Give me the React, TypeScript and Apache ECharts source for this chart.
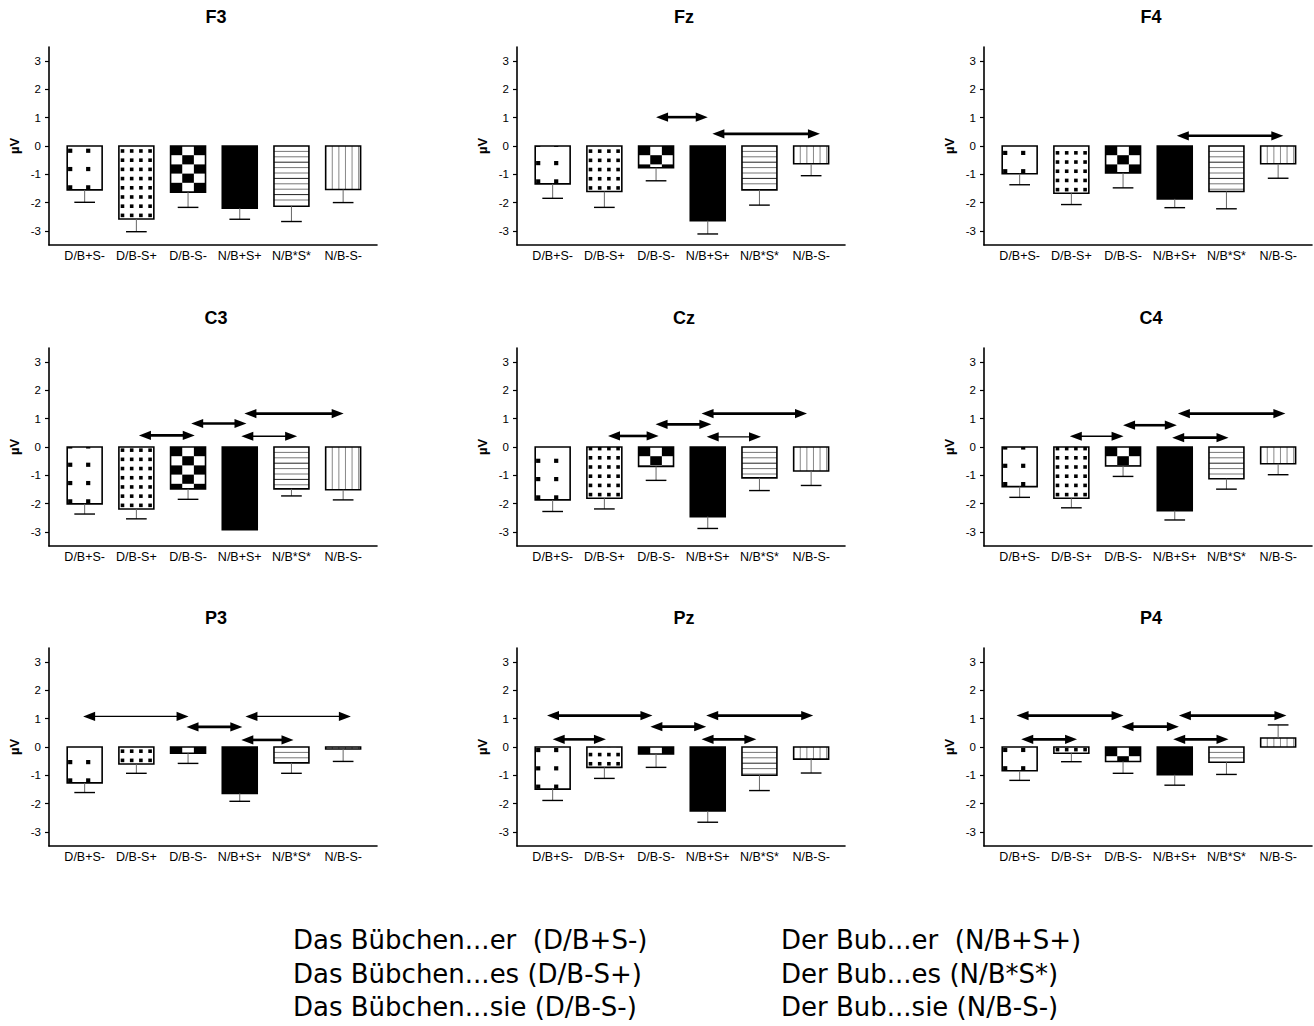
import React, { useEffect, useRef } from "react";
import * as echarts from "echarts";

// Conditions shown on every x axis
const CATEGORIES = ["D/B+S-", "D/B-S+", "D/B-S-", "N/B+S+", "N/B*S*", "N/B-S-"];
const Y_TICKS = [-3, -2, -1, 0, 1, 2, 3];
const ELECTRODES = ["F3", "Fz", "F4", "C3", "Cz", "C4", "P3", "Pz", "P4"];

// Mean amplitudes (µV) per condition
const F3_MEAN = [-1.55, -2.58, -1.63, -2.2, -2.13, -1.54];
const FZ_MEAN = [-1.34, -1.61, -0.77, -2.64, -1.55, -0.63];
const F4_MEAN = [-0.98, -1.67, -0.95, -1.87, -1.61, -0.63];
const C3_MEAN = [-2.01, -2.19, -1.48, -2.92, -1.48, -1.51];
const CZ_MEAN = [-1.87, -1.81, -0.69, -2.46, -1.09, -0.85];
const C4_MEAN = [-1.4, -1.81, -0.67, -2.25, -1.12, -0.59];
const P3_MEAN = [-1.27, -0.6, -0.22, -1.64, -0.56, -0.07];
const PZ_MEAN = [-1.49, -0.72, -0.25, -2.26, -1.0, -0.43];
const P4_MEAN = [-0.84, -0.22, -0.51, -0.98, -0.54, 0.32];

// Standard errors (µV)
const F3_SEM = [0.44, 0.45, 0.54, 0.39, 0.54, 0.46];
const FZ_SEM = [0.51, 0.56, 0.46, 0.47, 0.54, 0.42];
const F4_SEM = [0.39, 0.4, 0.53, 0.31, 0.61, 0.51];
const C3_SEM = [0.36, 0.35, 0.37, 0, 0.25, 0.36];
const CZ_SEM = [0.41, 0.38, 0.49, 0.42, 0.45, 0.51];
const C4_SEM = [0.38, 0.34, 0.37, 0.33, 0.37, 0.39];
const P3_SEM = [0.34, 0.33, 0.36, 0.28, 0.37, 0.44];
const PZ_SEM = [0.4, 0.39, 0.47, 0.4, 0.54, 0.49];
const P4_SEM = [0.34, 0.3, 0.42, 0.37, 0.43, 0.46];

// Significant contrasts: [from condition, to condition, level (µV), bold 1 / thin 0]
const F3_ARROWS: number[][] = [];
const FZ_ARROWS = [[2.0, 3.0, 1.02, 1], [3.09, 5.17, 0.43, 1]];
const F4_ARROWS = [[3.04, 5.1, 0.36, 1]];
const C3_ARROWS = [[1.05, 2.13, 0.41, 1], [2.06, 3.13, 0.83, 1], [3.09, 5.01, 1.18, 1], [3.03, 4.11, 0.38, 0]];
const CZ_ARROWS = [[1.07, 2.05, 0.39, 1], [1.99, 3.07, 0.8, 1], [2.88, 4.92, 1.18, 1], [2.98, 4.03, 0.36, 0]];
const C4_ARROWS = [[0.97, 2.01, 0.38, 0], [2.0, 3.04, 0.77, 1], [3.06, 5.14, 1.18, 1], [2.95, 4.04, 0.33, 1]];
const P3_ARROWS = [[-0.03, 2.01, 1.08, 0], [1.97, 3.05, 0.71, 1], [3.11, 5.15, 1.08, 0], [3.03, 4.04, 0.25, 1]];
const PZ_ARROWS = [[-0.11, 1.93, 1.11, 1], [0.0, 1.03, 0.27, 1], [1.89, 2.97, 0.72, 1], [2.97, 5.04, 1.11, 1], [2.88, 3.94, 0.27, 1]];
const P4_ARROWS = [[-0.06, 2.01, 1.11, 1], [0.03, 1.11, 0.27, 1], [1.97, 3.08, 0.72, 1], [3.08, 5.16, 1.11, 1], [2.97, 4.04, 0.27, 1]];

const MEANS = [F3_MEAN, FZ_MEAN, F4_MEAN, C3_MEAN, CZ_MEAN, C4_MEAN, P3_MEAN, PZ_MEAN, P4_MEAN];
const SEMS = [F3_SEM, FZ_SEM, F4_SEM, C3_SEM, CZ_SEM, C4_SEM, P3_SEM, PZ_SEM, P4_SEM];
const ARROWS = [F3_ARROWS, FZ_ARROWS, F4_ARROWS, C3_ARROWS, CZ_ARROWS, C4_ARROWS, P3_ARROWS, PZ_ARROWS, P4_ARROWS];

// Sentence legend
const LEGEND_LEFT = ["Das Bübchen...er  (D/B+S-)", "Das Bübchen...es (D/B-S+)", "Das Bübchen...sie (D/B-S-)"];
const LEGEND_RIGHT = ["Der Bub...er  (N/B+S+)", "Der Bub...es (N/B*S*)", "Der Bub...sie (N/B-S-)"];

// Layout
const COL_X = [49, 517, 984];
const ROW_Y = [47, 348, 648];
const GRID_W = 328;
const GRID_H = 198;
const X_MIN = -0.69;
const X_MAX = 5.655;
const BAR_HALF = 0.338;
const CAP_HALF = 0.2;
const FONT = "'Liberation Sans', Arial, Helvetica, sans-serif";

function rectEl(x: number, y: number, w: number, h: number, fill: string) {
  return { type: "rect", shape: { x, y, width: w, height: h }, style: { fill, stroke: null }, silent: true };
}
function lineEl(x1: number, y1: number, x2: number, y2: number, stroke: string, lw: number) {
  return { type: "line", shape: { x1, y1, x2, y2 }, style: { stroke, lineWidth: lw }, silent: true };
}

// Fill of each condition's bar, drawn inside the bar rectangle
function patternFor(kind: number, x: number, yTop: number, w: number, h: number) {
  const out: any[] = [];
  const yBot = yTop + h;
  const dot = (cx: number, cy: number, s: number) => {
    const x0 = Math.max(x, cx - s / 2);
    const x1 = Math.min(x + w, cx + s / 2);
    const y0 = Math.max(yTop, cy - s / 2);
    const y1 = Math.min(yBot, cy + s / 2);
    if (x1 > x0 && y1 > y0) out.push(rectEl(x0, y0, x1 - x0, y1 - y0, "#000"));
  };
  if (kind === 0) {
    for (let cy = yBot - 2.5; cy > yTop - 2; cy -= 18.3) {
      dot(x + 3, cy, 4.2);
      dot(x + 21, cy, 4.2);
    }
  } else if (kind === 1) {
    for (let cy = yBot - 3.6; cy > yTop - 1.8; cy -= 9.2) {
      for (let j = 0; j < 4; j++) dot(x + 3.6 + j * 9.2, cy, 3.6);
    }
  } else if (kind === 2) {
    const cw = w / 3;
    const ch = 9.2;
    for (let r = 0; yTop + r * ch < yBot; r++) {
      for (let c = 0; c < 3; c++) {
        if ((r + c) % 2 === 0) {
          const y0 = yTop + r * ch;
          out.push(rectEl(x + c * cw, y0, cw, Math.min(ch, yBot - y0), "#000"));
        }
      }
    }
  } else if (kind === 3) {
    out.push(rectEl(x, yTop, w, h, "#000"));
  } else if (kind === 4) {
    let k = 0;
    for (let yy = yTop + 5.4; yy < yBot - 1; yy += 5.4, k++) {
      out.push(lineEl(x, yy, x + w, yy, k % 3 === 2 ? "#222" : "#777", 1));
    }
  } else if (kind === 5) {
    for (let xx = x + 6.6; xx < x + w - 1; xx += 6.6) {
      out.push(lineEl(xx, yTop, xx, yBot, "#888", 1));
    }
  }
  return out;
}

function renderBar(_params: any, api: any) {
  const i = api.value(0);
  const mean = api.value(1);
  const sem = api.value(2);
  const a = api.coord([i - BAR_HALF, 0]);
  const b = api.coord([i + BAR_HALF, mean]);
  const x = a[0];
  const w = b[0] - a[0];
  const yTop = Math.min(a[1], b[1]);
  const h = Math.abs(b[1] - a[1]);
  const children: any[] = [rectEl(x, yTop, w, h, "#fff")];
  children.push(...patternFor(i, x, yTop, w, h));
  children.push({
    type: "rect",
    shape: { x, y: yTop, width: w, height: h },
    style: { fill: null, stroke: "#000", lineWidth: 1.6 },
    silent: true,
  });
  if (sem > 0) {
    const dir = mean < 0 ? -1 : 1;
    const c = api.coord([i, mean + dir * sem]);
    const end = api.coord([i, mean]);
    const l = api.coord([i - CAP_HALF, 0])[0];
    const r = api.coord([i + CAP_HALF, 0])[0];
    children.push(lineEl(c[0], end[1], c[0], c[1], "#666", 1));
    children.push(lineEl(l, c[1], r, c[1], "#000", 1.4));
  }
  return { type: "group", children };
}

function renderArrow(_params: any, api: any) {
  const p1 = api.coord([api.value(0), api.value(2)]);
  const p2 = api.coord([api.value(1), api.value(2)]);
  const bold = api.value(3) === 1;
  const head = 12;
  const hh = 4.6;
  const y = p1[1];
  return {
    type: "group",
    children: [
      lineEl(p1[0] + head - 1, y, p2[0] - head + 1, y, "#000", bold ? 2.6 : 1.3),
      {
        type: "polygon",
        shape: { points: [[p1[0], y], [p1[0] + head, y - hh], [p1[0] + head, y + hh]] },
        style: { fill: "#000" },
        silent: true,
      },
      {
        type: "polygon",
        shape: { points: [[p2[0], y], [p2[0] - head, y - hh], [p2[0] - head, y + hh]] },
        style: { fill: "#000" },
        silent: true,
      },
    ],
  };
}

function buildOption() {
  const grid: any[] = [];
  const xAxis: any[] = [];
  const yAxis: any[] = [];
  const series: any[] = [];
  const graphic: any[] = [];

  ELECTRODES.forEach((name, k) => {
    const left = COL_X[k % 3];
    const top = ROW_Y[Math.floor(k / 3)];
    grid.push({ left, top, width: GRID_W, height: GRID_H, containLabel: false });
    xAxis.push({
      gridIndex: k,
      type: "value",
      min: X_MIN,
      max: X_MAX,
      axisLine: { show: true, onZero: false, lineStyle: { color: "#000", width: 1.6 } },
      axisTick: { show: false },
      splitLine: { show: false },
      axisLabel: {
        customValues: CATEGORIES.map((_, i) => i),
        formatter: (v: number) => CATEGORIES[Math.round(v)],
        color: "#000",
        fontSize: 12.5,
        fontFamily: FONT,
        margin: 4,
      },
    });
    yAxis.push({
      gridIndex: k,
      type: "value",
      min: -3.5,
      max: 3.5,
      name: "µV",
      nameLocation: "middle",
      nameGap: 28,
      nameRotate: 90,
      nameTextStyle: { color: "#000", fontSize: 13, fontWeight: "bold", fontFamily: FONT },
      axisLine: { show: true, onZero: false, lineStyle: { color: "#000", width: 1.6 } },
      axisTick: { show: true, customValues: Y_TICKS, length: 4, lineStyle: { color: "#000", width: 1.2 } },
      splitLine: { show: false },
      axisLabel: {
        customValues: Y_TICKS,
        color: "#000",
        fontSize: 11.5,
        fontFamily: FONT,
        margin: 8,
      },
    });
    series.push({
      type: "custom",
      name: name + " bars",
      xAxisIndex: k,
      yAxisIndex: k,
      renderItem: renderBar,
      encode: { x: 0, y: 1 },
      data: CATEGORIES.map((_, i) => [i, MEANS[k][i], SEMS[k][i]]),
      silent: true,
    });
    if (ARROWS[k].length) {
      series.push({
        type: "custom",
        name: name + " contrasts",
        xAxisIndex: k,
        yAxisIndex: k,
        renderItem: renderArrow,
        encode: { x: [0, 1], y: 2 },
        data: ARROWS[k],
        silent: true,
      });
    }
    graphic.push({
      type: "text",
      x: left + 167,
      y: top - 30,
      style: {
        text: name,
        fill: "#000",
        font: `bold 18px ${FONT}`,
        textAlign: "center",
        textVerticalAlign: "middle",
      },
    });
  });

  const legendFont = "26px 'DejaVu Sans', sans-serif";
  LEGEND_LEFT.forEach((t, i) => {
    graphic.push({
      type: "text",
      x: 293,
      y: 940 + i * 33.5,
      style: { text: t, fill: "#000", font: legendFont, textVerticalAlign: "middle" },
    });
  });
  LEGEND_RIGHT.forEach((t, i) => {
    graphic.push({
      type: "text",
      x: 781,
      y: 940 + i * 33.5,
      style: { text: t, fill: "#000", font: legendFont, textVerticalAlign: "middle" },
    });
  });

  return {
    animation: false,
    backgroundColor: "#fff",
    grid,
    xAxis,
    yAxis,
    series,
    graphic,
  };
}

export default function App() {
  const ref = useRef<HTMLDivElement>(null);
  useEffect(() => {
    document.body.style.margin = "0";
    if (!ref.current) return;
    const chart = echarts.init(ref.current, null, { renderer: "svg" });
    chart.setOption(buildOption() as any);
    return () => chart.dispose();
  }, []);
  return <div ref={ref} style={{ width: 1314, height: 1026 }} />;
}
